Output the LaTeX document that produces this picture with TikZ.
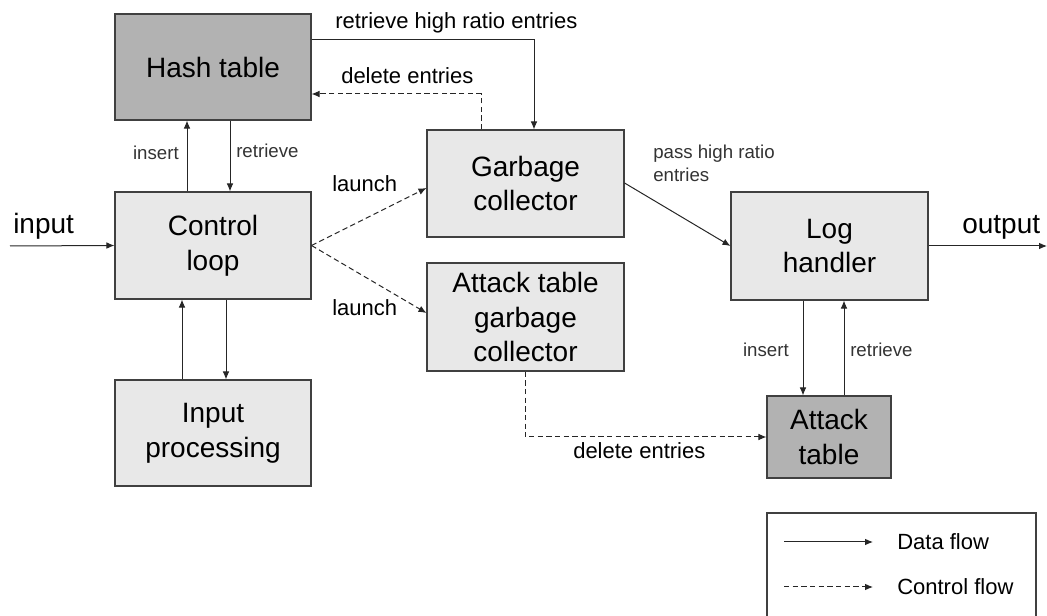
\documentclass[tikz,border=0pt]{standalone}
\usepackage{fontspec}
\setmainfont{Liberation Sans}
\usetikzlibrary{arrows.meta}
\definecolor{boxfill}{HTML}{E8E8E8}
\definecolor{darkfill}{HTML}{B2B2B2}
\definecolor{edge}{HTML}{404040}
\begin{document}
\begin{tikzpicture}[x=0.75pt,y=-0.75pt,
  blk/.style={draw=edge,line width=0.8pt,fill=boxfill,inner sep=0pt,align=center,
    font=\fontsize{21}{26}\selectfont},
  dblk/.style={blk,fill=darkfill},
  data/.style={draw=black!85,line width=0.75pt,-{Latex[length=6pt,width=5pt]}},
  ctrl/.style={data,dashed,dash pattern=on 4pt off 2.5pt},
  lbl/.style={font=\fontsize{16.5}{19}\selectfont,inner sep=0pt},
  sml/.style={font=\fontsize{14}{17}\selectfont,text=black!80,inner sep=0pt,align=left},
  io/.style={font=\fontsize{21}{25}\selectfont,inner sep=0pt}]
\useasboundingbox (0,0) rectangle (1047,616);
% boxes
\node[dblk,minimum width=196*0.75pt,minimum height=106*0.75pt] (hash) at (213,67) {Hash table};
\node[blk,minimum width=196*0.75pt,minimum height=107*0.75pt] (ctl) at (213,245.5) {Control\\loop};
\node[blk,minimum width=196*0.75pt,minimum height=106*0.75pt] (inp) at (213,433) {Input\\processing};
\node[blk,minimum width=197*0.75pt,minimum height=107*0.75pt] (gc) at (525.5,183.5) {Garbage\\collector};
\node[blk,minimum width=197*0.75pt,minimum height=108*0.75pt] (agc) at (525.5,317) {Attack table\\garbage\\collector};
\node[blk,minimum width=197*0.75pt,minimum height=108*0.75pt] (log) at (829.5,246) {Log\\handler};
\node[dblk,minimum width=124*0.75pt,minimum height=82*0.75pt] (att) at (829,437) {Attack\\table};
% input / output
\coordinate (inS) at (10,246);
\coordinate (outE) at (1047,246);
\draw[data] (inS) -- (ctl.west);
\node[io,anchor=base west] (inl) at (13,234) {input};
\draw[data] (log.east) -- (outE);
\node[io,anchor=base west] (outl) at (962,234) {output};
% hash <-> control
\draw[data] (ctl.north -| 187,0) -- (hash.south -| 187,0);
\draw[data] (hash.south -| 230,0) -- (ctl.north -| 230,0);
\node[sml,anchor=base east] (ins1) at (179,160) {insert};
\node[sml,anchor=base west] (ret1) at (236,158) {retrieve};
% control <-> input processing
\draw[data] (inp.north -| 182,0) -- (ctl.south -| 182,0);
\draw[data] (ctl.south -| 226,0) -- (inp.north -| 226,0);
% retrieve high ratio entries
\draw[data] (hash.east |- 0,40) -| (gc.north -| 534,0);
\node[lbl,anchor=base west] (rhre) at (335,29) {retrieve high ratio entries};
% delete entries (gc -> hash)
\draw[ctrl] (gc.north -| 481,0) |- (hash.east |- 0,94);
\node[lbl,anchor=base west] (de1) at (341,84) {delete entries};
% launch
\draw[ctrl] (ctl.east) -- (gc.west |- 0,188);
\draw[ctrl] (ctl.east) -- (agc.west |- 0,313);
\node[lbl,anchor=base west] (l1) at (332,192) {launch};
\node[lbl,anchor=base west] (l2) at (332,316) {launch};
% pass high ratio entries
\draw[data] (gc.east |- 0,183) -- (log.west);
\node[sml,anchor=north west] (phr) at (653,145) {pass high ratio\\entries};
% log <-> attack table
\draw[data] (log.south -| 803,0) -- (att.north -| 803,0);
\draw[data] (att.north -| 844,0) -- (log.south -| 844,0);
\node[sml,anchor=base east] (ins2) at (789,357) {insert};
\node[sml,anchor=base west] (ret2) at (850,357) {retrieve};
% delete entries (agc -> attack)
\draw[ctrl] (agc.south -| 525,0) |- (att.west |- 0,437);
\node[lbl,anchor=base west] (de2) at (573,459) {delete entries};
% legend
\draw[draw=edge,line width=0.8pt] (767,616) -- (767,513) -- (1036,513) -- (1036,616);
\coordinate (d1) at (784,542); \coordinate (d2) at (873,542);
\coordinate (c1) at (784,587); \coordinate (c2) at (873,587);
\draw[data] (d1) -- (d2);
\draw[ctrl] (c1) -- (c2);
\node[lbl,anchor=west] (lgd) at (897,542) {Data flow};
\node[lbl,anchor=west] (lgc) at (897,587) {Control flow};
\end{tikzpicture}
\end{document}
